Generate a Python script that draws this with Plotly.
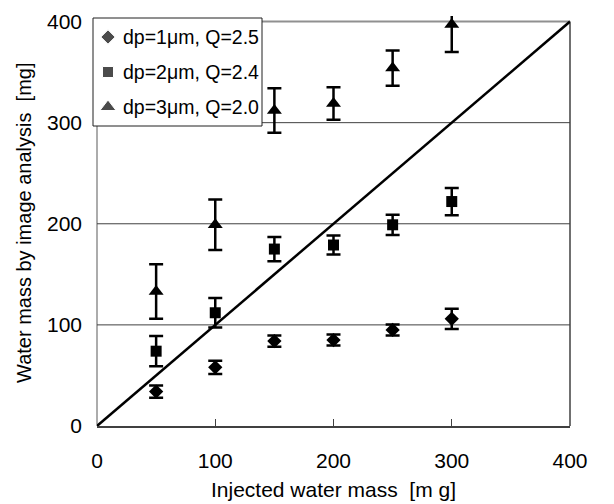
import plotly.graph_objects as go

# Injected water mass [mg]
injected = [50, 100, 150, 200, 250, 300]

# Water mass measured by image analysis [mg] and its error (±)
dp1_mass = [34, 58, 84, 85, 95, 106]
dp1_err = [6, 6.5, 5.5, 5.5, 5.5, 10]

dp2_mass = [74, 112, 175, 179, 199, 222]
dp2_err = [15, 14.5, 12, 9.5, 10, 13.5]

dp3_mass = [133, 199, 312, 319, 354, 397]
dp3_err = [27, 25, 22, 16, 17.5, 27]

series_names = ["dp=1μm, Q=2.5", "dp=2μm, Q=2.4", "dp=3μm, Q=2.0"]
series_symbols = ["diamond", "square", "triangle-up"]
tick_values = [0, 100, 200, 300, 400]
grid_levels = [100, 200, 300]
axis_max = 400

FONT = "Liberation Sans, Arial, sans-serif"

# figure geometry (pixels)
W, H = 614, 504
PL, PR, PT, PB = 97, 570, 16, 426   # plot-area edges


def px_x(px):
    return (px - PL) / (PR - PL)


def px_y(py):
    return (PB - py) / (PB - PT)


fig = go.Figure()

marker_sizes = [11, 11, 13]
for name, y, err, sym, size in zip(series_names,
                                   [dp1_mass, dp2_mass, dp3_mass],
                                   [dp1_err, dp2_err, dp3_err],
                                   series_symbols, marker_sizes):
    fig.add_trace(go.Scatter(
        x=injected, y=y, name=name, mode="markers",
        marker=dict(symbol=sym, size=size, color="black"),
        error_y=dict(type="data", array=err, visible=True,
                     color="black", thickness=2.5, width=7),
    ))

# legend box contents: symbols on an overlay axis measured in pixels
legend_rows = [37, 72, 107]
legend_sym_x = 108
legend_text_x = 121
fig.add_trace(go.Scatter(
    x=[legend_sym_x] * 3, y=legend_rows, mode="markers",
    xaxis="x2", yaxis="y2", cliponaxis=False, hoverinfo="skip",
    marker=dict(symbol=series_symbols, size=[11, 11, 14], color="black"),
))

shapes = []
# plot-area frame lines
shapes.append(dict(type="line", xref="paper", yref="y", x0=0, x1=0,
                   y0=0, y1=axis_max, line=dict(color="#909090", width=1.5),
                   layer="below"))
shapes.append(dict(type="line", xref="paper", yref="y", x0=1, x1=1,
                   y0=0, y1=axis_max, line=dict(color="#404040", width=1.5),
                   layer="below"))
for lv in grid_levels:
    shapes.append(dict(type="line", xref="paper", yref="y", x0=0, x1=1,
                       y0=lv, y1=lv, line=dict(color="#404040", width=1),
                       layer="below"))
shapes.append(dict(type="line", xref="paper", yref="y", x0=0, x1=1,
                   y0=axis_max, y1=axis_max,
                   line=dict(color="#909090", width=2), layer="below"))
# legend frame
shapes.append(dict(type="rect", xref="paper", yref="paper",
                   x0=px_x(93), x1=px_x(262), y0=px_y(126), y1=px_y(18),
                   line=dict(color="#202020", width=1), fillcolor="white",
                   layer="below"))
# 1:1 line
shapes.append(dict(type="line", xref="x", yref="y", x0=0, y0=0,
                   x1=axis_max, y1=axis_max,
                   line=dict(color="black", width=2.5)))

annotations = [dict(
    text="Water mass by image analysis  [mg]",
    xref="paper", yref="paper", x=px_x(24), y=px_y(223),
    xanchor="center", yanchor="middle", textangle=-90,
    showarrow=False, font=dict(size=20, family=FONT, color="black"),
)]
for name, ry in zip(series_names, legend_rows):
    annotations.append(dict(
        text=name, xref="x2", yref="y2", x=legend_text_x, y=ry,
        xanchor="left", yanchor="middle", showarrow=False,
        font=dict(size=19.5, family=FONT, color="black"),
    ))

fig.update_layout(
    width=W, height=H,
    margin=dict(l=PL, r=W - PR, t=PT, b=H - PB, autoexpand=False),
    paper_bgcolor="white", plot_bgcolor="white",
    font=dict(family=FONT, color="black"),
    showlegend=False,
    shapes=shapes,
    annotations=annotations,
    xaxis=dict(
        range=[0, axis_max], tickvals=tick_values,
        showgrid=False, zeroline=False, automargin=False,
        showline=True, linecolor="#404040", linewidth=2,
        ticks="inside", ticklen=7, tickwidth=1, tickcolor="#404040",
        tickfont=dict(size=21, family=FONT, color="black"),
        ticklabelstandoff=15,
        title=dict(text="Injected water mass  [m g]", standoff=11,
                   font=dict(size=21, family=FONT, color="black")),
    ),
    yaxis=dict(
        range=[0, 405.5], tickvals=tick_values,
        showgrid=False, zeroline=False, showline=False, automargin=False,
        tickfont=dict(size=21, family=FONT, color="black"),
        ticklabelstandoff=14,
    ),
    xaxis2=dict(overlaying="x", range=[PL, PR], visible=False,
                fixedrange=True),
    yaxis2=dict(overlaying="y", range=[PB, PT], visible=False,
                fixedrange=True),
)

fig.write_html("out.html")
